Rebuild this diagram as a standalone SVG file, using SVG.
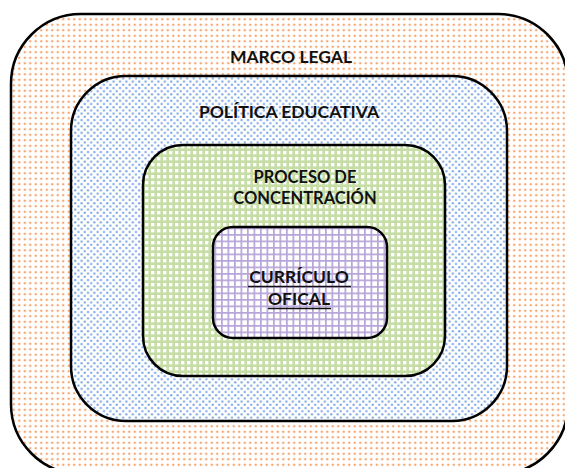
<svg xmlns="http://www.w3.org/2000/svg" width="565" height="468" viewBox="0 0 565 468">
  <defs>
    <pattern id="pOrange" width="5.5" height="5.5" patternUnits="userSpaceOnUse">
      <rect width="5.5" height="5.5" fill="#ffffff"/>
      <circle cx="2.75" cy="2.75" r="1.25" fill="#f6a46c"/>
    </pattern>
    <pattern id="pBlue" width="6.4" height="6.4" patternUnits="userSpaceOnUse">
      <rect width="6.4" height="6.4" fill="#ffffff"/>
      <circle cx="1.6" cy="1.6" r="1.15" fill="#7aa6e2"/>
      <circle cx="4.8" cy="4.8" r="1.15" fill="#7aa6e2"/>
    </pattern>
    <pattern id="pGreen" width="6" height="6" patternUnits="userSpaceOnUse">
      <rect width="6" height="6" fill="#c6dda6"/>
      <rect x="1" y="1" width="3.4" height="3.4" fill="#ffffff"/>
    </pattern>
    <pattern id="pPurple" width="6.5" height="6.5" patternUnits="userSpaceOnUse">
      <rect width="6.5" height="6.5" fill="#ffffff"/>
      <rect x="0" y="0" width="6.5" height="1.7" fill="#b7a4d8"/>
      <rect x="0" y="0" width="1.7" height="6.5" fill="#b7a4d8"/>
    </pattern>
  </defs>
  <style>
    .box { stroke: #000000; stroke-width: 2.5; }
    .lbl { font-family: Lato, "Open Sans", "DejaVu Sans", sans-serif; font-weight: bold; font-size: 17.5px; fill: #111111; text-anchor: middle; }
    .sm { font-size: 16.5px; }
    .ul { stroke: #111111; stroke-width: 1.3; }
  </style>
  <rect width="565" height="468" fill="#ffffff"/>
  <g id="marco-legal">
    <rect class="box" x="11" y="14" width="557" height="460" rx="70" ry="70" fill="url(#pOrange)"/>
    <text class="lbl" x="291" y="63">MARCO LEGAL</text>
  </g>
  <g id="politica-educativa">
    <rect class="box" x="71" y="76" width="436" height="345" rx="55" ry="55" fill="url(#pBlue)"/>
    <text class="lbl" x="289" y="118">POLÍTICA EDUCATIVA</text>
  </g>
  <g id="proceso-concentracion">
    <rect class="box" x="143" y="145" width="302" height="231" rx="40" ry="40" fill="url(#pGreen)"/>
    <text class="lbl sm" x="305" y="183">PROCESO DE</text>
    <text class="lbl sm" x="305" y="204">CONCENTRACIÓN</text>
  </g>
  <g id="curriculo-oficial">
    <rect class="box" x="213" y="227" width="174" height="111" rx="20" ry="20" fill="url(#pPurple)"/>
    <text class="lbl" x="299" y="283">CURRÍCULO</text>
    <line class="ul" x1="248" y1="286.5" x2="351" y2="286.5"/>
    <text class="lbl" x="299" y="305">OFICAL</text>
    <line class="ul" x1="268" y1="308.5" x2="331" y2="308.5"/>
  </g>
  <g id="connectors"></g>
</svg>
